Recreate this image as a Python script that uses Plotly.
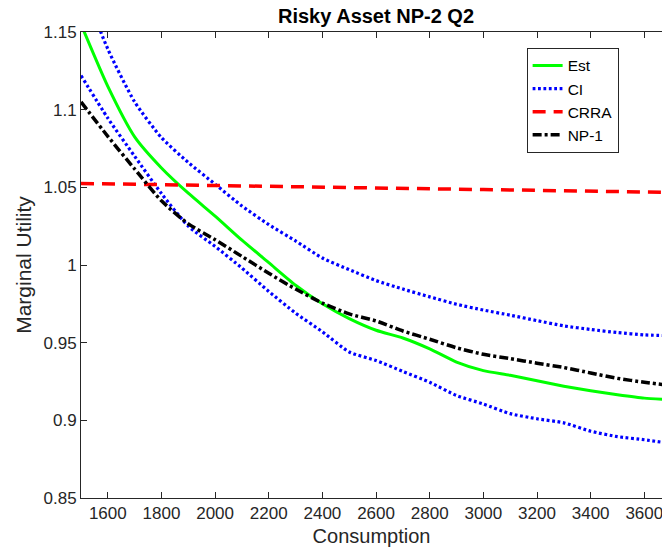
import plotly.graph_objects as go

consumption = [1500, 1600, 1700, 1800, 1900, 2000, 2100, 2200, 2300, 2400, 2500,
               2600, 2700, 2800, 2900, 3000, 3100, 3200, 3300, 3400, 3500, 3600, 3670]

est = [1.155, 1.115, 1.0825, 1.0625, 1.0462, 1.0315, 1.016, 1.0015, 0.987, 0.975, 0.9655,
       0.958, 0.953, 0.946, 0.9375, 0.932, 0.929, 0.9255, 0.922, 0.919, 0.9165, 0.9143, 0.9136]

ci_upper = [1.183, 1.139, 1.105, 1.082, 1.066, 1.052, 1.038, 1.026, 1.0155, 1.0045, 0.997,
            0.990, 0.9845, 0.9795, 0.9747, 0.971, 0.9677, 0.9642, 0.9608, 0.9585, 0.9565, 0.955, 0.9546]

ci_lower = [1.122, 1.0945, 1.070, 1.046, 1.025, 1.012, 0.998, 0.983, 0.969, 0.957, 0.944,
            0.9385, 0.9315, 0.9245, 0.916, 0.9105, 0.9043, 0.901, 0.8984, 0.893, 0.8895, 0.8875, 0.8858]

crra = [1.0525, 1.0522, 1.0519, 1.0517, 1.0514, 1.0512, 1.0509, 1.0507, 1.0504, 1.0501, 1.0499,
        1.0496, 1.0494, 1.0491, 1.0488, 1.0486, 1.0483, 1.0481, 1.0478, 1.0475, 1.0473, 1.047, 1.0468]

np1 = [1.105, 1.0828, 1.0618, 1.0413, 1.0265, 1.0163, 1.0055, 0.9947, 0.9845, 0.9755, 0.9685,
       0.964, 0.9575, 0.9522, 0.9467, 0.9425, 0.9397, 0.9368, 0.934, 0.9305, 0.927, 0.9245, 0.923]

x_ticks = [1600, 1800, 2000, 2200, 2400, 2600, 2800, 3000, 3200, 3400, 3600]
y_ticks = [0.85, 0.9, 0.95, 1.0, 1.05, 1.1, 1.15]
y_tick_text = ["0.85", "0.9", "0.95", "1", "1.05", "1.1", "1.15"]

FONT = "Liberation Sans, Arial, sans-serif"
AX = "#262626"

fig = go.Figure()
fig.add_trace(go.Scatter(x=consumption, y=est, mode="lines", name="Est",
                         line=dict(color="#00ff00", width=3, shape="spline", smoothing=0.6)))
fig.add_trace(go.Scatter(x=consumption, y=ci_upper, mode="lines", name="CI",
                         line=dict(color="#0000ff", width=3.2, dash="2.8px,2.6px", shape="spline", smoothing=0.6)))
fig.add_trace(go.Scatter(x=consumption, y=ci_lower, mode="lines", name="CI", showlegend=False,
                         line=dict(color="#0000ff", width=3.2, dash="2.8px,2.6px", shape="spline", smoothing=0.6)))
fig.add_trace(go.Scatter(x=consumption, y=crra, mode="lines", name="CRRA",
                         line=dict(color="#ff0000", width=3.5, dash="13px,8px")))
fig.add_trace(go.Scatter(x=consumption, y=np1, mode="lines", name="NP-1",
                         line=dict(color="#000000", width=3.5, dash="9px,3px,3px,3px", shape="spline", smoothing=0.6)))

fig.update_layout(
    width=662, height=558,
    margin=dict(l=81, r=0, t=32, b=60, autoexpand=False),
    paper_bgcolor="white", plot_bgcolor="white",
    font=dict(family=FONT, color=AX),
    title=dict(text="<b>Risky Asset NP-2 Q2</b>", x=0.568, xanchor="center",
               y=0.972, yanchor="middle", font=dict(size=20, color="#000000", family=FONT),
               automargin=False),
    showlegend=True,
    legend=dict(x=0.767, y=0.966, xanchor="left", yanchor="top",
                bgcolor="white", bordercolor=AX, borderwidth=1,
                font=dict(size=15.5, color="#000000", family=FONT),
                tracegroupgap=0, entrywidth=78, entrywidthmode="pixels"),
    xaxis=dict(range=[1500, 3666], tickvals=x_ticks, ticks="inside", ticklen=6,
               tickcolor=AX, showline=True, linecolor=AX, linewidth=1, mirror="ticks",
               showgrid=False, zeroline=False, tickfont=dict(size=17, color=AX),
               automargin=False, ticklabeloverflow="allow",
               title=dict(text="Consumption", font=dict(size=20, color=AX), standoff=6)),
    yaxis=dict(range=[0.85, 1.15], tickvals=y_ticks, ticktext=y_tick_text, ticks="inside",
               ticklen=6, tickcolor=AX, showline=True, linecolor=AX, linewidth=1,
               showgrid=False, zeroline=False, tickfont=dict(size=17, color=AX),
               automargin=False, ticklabeloverflow="allow",
               title=dict(text="Marginal Utility", font=dict(size=21, color=AX), standoff=6)),
)

fig.write_html("out.html", config={"displayModeBar": False},
               post_script="document.body.style.margin='0';document.body.style.overflow='hidden';")
